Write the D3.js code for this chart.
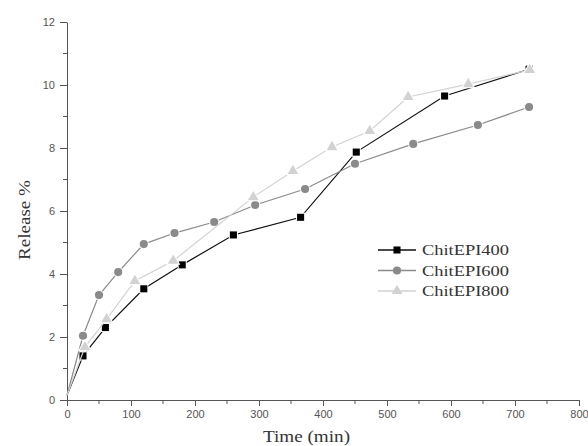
<!DOCTYPE html>
<html>
<head>
<meta charset="utf-8">
<script src="https://cdn.jsdelivr.net/npm/d3@7"></script>
<style>
  body { margin: 0; background: #fff; }
  .tick text { font-family: "Liberation Sans", Arial, sans-serif; font-size: 11px; fill: #555; }
  .axis path, .axis line { stroke: #555; }
  .axis-label, .legend text { font-family: "Liberation Serif", "Times New Roman", serif; fill: #333; }
  .axis-label { font-size: 16px; }
  .legend text { font-size: 15px; }
</style>
</head>
<body>
<div id="chart"></div>
<script>
// Data
const seriesNames = ["ChitEPI400", "ChitEPI600", "ChitEPI800"];

const time400 = [0, 25, 60, 120, 180, 260, 365, 452, 590, 722];
const rel400  = [0.15, 1.4, 2.3, 3.53, 4.29, 5.24, 5.8, 7.87, 9.65, 10.5];

const time600 = [0, 25, 50, 80, 120, 168, 230, 294, 372, 450, 541, 642, 722];
const rel600  = [0.15, 2.04, 3.33, 4.06, 4.95, 5.3, 5.65, 6.19, 6.7, 7.5, 8.13, 8.73, 9.3];

const time800 = [0, 28, 62, 106, 166, 291, 353, 414, 473, 533, 627, 723];
const rel800  = [0.15, 1.68, 2.57, 3.78, 4.42, 6.44, 7.27, 8.03, 8.54, 9.62, 10.03, 10.48];

const xTicks = [0, 100, 200, 300, 400, 500, 600, 700, 800];
const yTicks = [0, 2, 4, 6, 8, 10, 12];

const W = 588, H = 446;

const svg = d3.select("#chart")
    .append("svg")
    .attr("width", W)
    .attr("height", H);

const x = d3.scaleLinear().domain([0, 800]).range([67, 579]);
const y = d3.scaleLinear().domain([0, 12]).range([400, 22]);

// Axes
const xAxis = d3.axisBottom(x).tickValues(xTicks).tickSize(6).tickSizeOuter(0).tickPadding(4);
const yAxis = d3.axisLeft(y).tickValues(yTicks).tickSize(7).tickSizeOuter(0).tickPadding(5);

svg.append("g")
    .attr("class", "axis")
    .attr("transform", `translate(0,${y(0)})`)
    .call(xAxis);

svg.append("g")
    .attr("class", "axis")
    .attr("transform", `translate(${x(0)},0)`)
    .call(yAxis);

// minor ticks
svg.append("g").selectAll("line")
    .data(d3.range(50, 800, 100))
    .join("line")
    .attr("x1", d => x(d)).attr("x2", d => x(d))
    .attr("y1", y(0)).attr("y2", y(0) + 4)
    .attr("stroke", "#555");

svg.append("g").selectAll("line")
    .data(d3.range(1, 12, 2))
    .join("line")
    .attr("x1", x(0) - 4).attr("x2", x(0))
    .attr("y1", d => y(d)).attr("y2", d => y(d))
    .attr("stroke", "#555");

// Axis labels
svg.append("text")
    .attr("class", "axis-label")
    .attr("x", 263)
    .attr("y", 442)
    .attr("textLength", 87)
    .attr("lengthAdjust", "spacingAndGlyphs")
    .text("Time (min)");

svg.append("text")
    .attr("class", "axis-label")
    .attr("transform", "rotate(-90)")
    .attr("x", -260)
    .attr("y", 30)
    .attr("textLength", 80)
    .attr("lengthAdjust", "spacingAndGlyphs")
    .text("Release %");

// Series
const series = [
    { name: seriesNames[0], t: time400, v: rel400, color: "#111", fill: "#000", shape: d3.symbolSquare, size: 50 },
    { name: seriesNames[1], t: time600, v: rel600, color: "#8a8a8a", fill: "#8a8a8a", shape: d3.symbolCircle, size: 52 },
    { name: seriesNames[2], t: time800, v: rel800, color: "#d2d2d2", fill: "#d2d2d2", shape: d3.symbolTriangle, size: 50 }
];

const line = d3.line().x(d => x(d[0])).y(d => y(d[1]));

series.forEach(s => {
    const pts = s.t.map((t, i) => [t, s.v[i]]);
    const g = svg.append("g");
    g.append("path")
        .datum(pts)
        .attr("fill", "none")
        .attr("stroke", s.color)
        .attr("stroke-width", 1.2)
        .attr("d", line);
    g.selectAll("path.m")
        .data(pts.slice(1))
        .join("path")
        .attr("class", "m")
        .attr("transform", d => `translate(${x(d[0])},${y(d[1])})`)
        .attr("d", d3.symbol().type(s.shape).size(s.size))
        .attr("fill", s.fill)
        .attr("stroke", "#fff")
        .attr("stroke-width", 2)
        .attr("paint-order", "stroke");
});

// Legend
const legend = svg.append("g").attr("class", "legend");
series.forEach((s, i) => {
    const ly = 250 + i * 20.5;
    legend.append("line")
        .attr("x1", 378).attr("x2", 416)
        .attr("y1", ly).attr("y2", ly)
        .attr("stroke", s.color).attr("stroke-width", 1.3);
    legend.append("path")
        .attr("transform", `translate(397,${ly})`)
        .attr("d", d3.symbol().type(s.shape).size(s.size))
        .attr("fill", s.fill);
    legend.append("text")
        .attr("x", 422)
        .attr("y", ly + 5)
        .attr("textLength", 87)
        .attr("lengthAdjust", "spacingAndGlyphs")
        .text(s.name);
});
</script>
</body>
</html>
